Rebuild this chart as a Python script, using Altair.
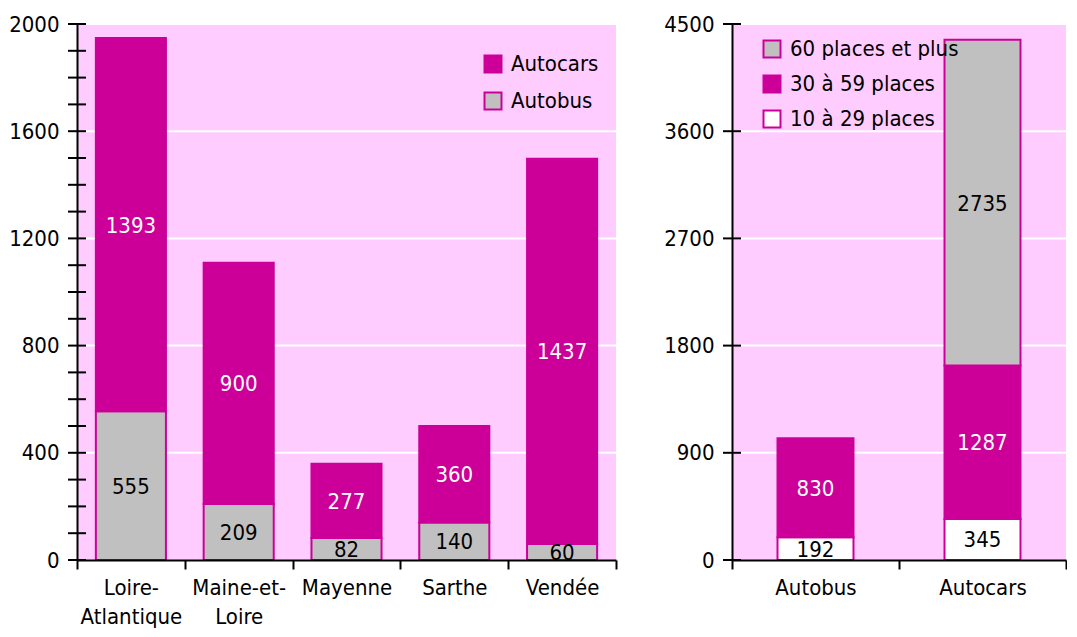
import altair as alt
import pandas as pd

# ---------------- data ----------------
DEPTS = ["Loire-Atlantique", "Maine-et-Loire", "Mayenne", "Sarthe", "Vendée"]
AUTOBUS = [555, 209, 82, 140, 60]
AUTOCARS = [1393, 900, 277, 360, 1437]

TYPES = ["Autobus", "Autocars"]
PLACES_10_29 = [192, 345]
PLACES_30_59 = [830, 1287]
PLACES_60_PLUS = [0, 2735]

LEFT_SERIES = ["Autocars", "Autobus"]            # legend order
RIGHT_SERIES = ["60 places et plus", "30 à 59 places", "10 à 29 places"]

LEFT_LABELS = [0, 400, 800, 1200, 1600, 2000]
LEFT_TICKS = list(range(0, 2001, 100))
RIGHT_LABELS = [0, 900, 1800, 2700, 3600, 4500]

# ---------------- style ----------------
MAG = "#CC0099"
GREY = "#C0C0C0"
BG = "#FFCCFF"
FONT = "DejaVu Sans Condensed, Liberation Sans Narrow, sans-serif"
FS = 22
H = 536

left_df = pd.DataFrame({
    "dept": DEPTS * 2,
    "series": ["Autobus"] * len(DEPTS) + ["Autocars"] * len(DEPTS),
    "value": AUTOBUS + AUTOCARS,
    "rank": [0] * len(DEPTS) + [1] * len(DEPTS),
})

right_rows = []
for i, t in enumerate(TYPES):
    for s, vals, r in [("10 à 29 places", PLACES_10_29, 0),
                       ("30 à 59 places", PLACES_30_59, 1),
                       ("60 places et plus", PLACES_60_PLUS, 2)]:
        right_rows.append({"type": t, "series": s, "value": vals[i], "rank": r})
right_df = pd.DataFrame(right_rows)
right_df = right_df[right_df["value"] > 0]


def panel(df, cat, cats, series_domain, series_range, white_series, ydomain,
          ylabels, yticks, width, band, legend_x, legend_y, row_pad, label_expr=None):
    xaxis = dict(title=None, labelAngle=0, tickBand="extent", tickSize=9,
                 tickWidth=2, tickColor="black", domainColor="black",
                 domainWidth=2, labelFontSize=FS, labelFont=FONT,
                 labelColor="black", labelPadding=8, grid=False,
                 labelLineHeight=29, zindex=1)
    if label_expr:
        xaxis["labelExpr"] = label_expr
    x = alt.X(f"{cat}:N", sort=cats,
              scale=alt.Scale(paddingInner=0, paddingOuter=0),
              axis=alt.Axis(**xaxis))
    yscale = alt.Scale(domain=ydomain, nice=False, zero=True)

    def yaxis():
        return alt.Axis(title=None, values=ylabels, ticks=False, tickSize=0,
                        format="d", labelPadding=18, labelFontSize=FS,
                        labelFont=FONT, labelColor="black",
                        domainColor="black", domainWidth=2,
                        grid=False, zindex=1)

    base = alt.Chart(df).transform_stack(
        stack="value", groupby=[cat], sort=[alt.SortField("rank")],
        as_=["v0", "v1"]
    ).transform_calculate(mid="(datum.v0 + datum.v1) / 2")

    grid = alt.Chart(pd.DataFrame({"g": ylabels[1:]})).mark_rule(
        color="white", strokeWidth=2
    ).encode(y=alt.Y("g:Q", scale=yscale, axis=yaxis()))

    bars = base.mark_bar(stroke=MAG, strokeWidth=2,
                         width=alt.RelativeBandSize(band)).encode(
        x=x,
        y=alt.Y("v0:Q", scale=yscale, axis=yaxis()),
        y2="v1:Q",
        fill=alt.Fill("series:N",
                      scale=alt.Scale(domain=series_domain, range=series_range),
                      legend=alt.Legend(orient="none", legendX=legend_x,
                                        legendY=legend_y, title=None,
                                        symbolType="square", symbolSize=289,
                                        symbolStrokeColor=MAG,
                                        symbolStrokeWidth=2,
                                        labelFontSize=FS, labelFont=FONT,
                                        labelColor="black", rowPadding=row_pad,
                                        labelOffset=7, padding=0,
                                        labelLimit=400)),
    )

    text = base.mark_text(font=FONT, fontSize=FS, baseline="middle",
                          align="center", dy=1).encode(
        x=alt.X(f"{cat}:N", sort=cats),
        y=alt.Y("mid:Q", scale=yscale, axis=yaxis()),
        text=alt.Text("value:Q"),
        color=alt.condition(alt.datum.series == white_series,
                            alt.value("white"), alt.value("black")),
    )

    ticks = alt.Chart(pd.DataFrame({"t": yticks})).mark_rule(
        color="black", strokeWidth=2
    ).encode(y=alt.Y("t:Q", scale=yscale, axis=yaxis()),
             x=alt.value(-9), x2=alt.value(9))

    return alt.layer(grid, bars, text, ticks).properties(width=width, height=H)


left = panel(
    left_df, "dept", DEPTS, LEFT_SERIES, [MAG, GREY], "Autocars",
    [0, 2000], LEFT_LABELS, LEFT_TICKS, 539, 0.65, 405, 29, 11,
    label_expr="datum.value == 'Loire-Atlantique' ? ['Loire-', 'Atlantique'] : "
               "datum.value == 'Maine-et-Loire' ? ['Maine-et-', 'Loire'] : datum.label",
)

right = panel(
    right_df, "type", TYPES, RIGHT_SERIES, [GREY, MAG, "white"], "30 à 59 places",
    [0, 4500], RIGHT_LABELS, RIGHT_LABELS, 334, 0.455, 29, 14, 9,
)

chart = alt.hconcat(left, right, spacing=46).resolve_scale(
    x="independent", y="independent", fill="independent"
).resolve_legend(fill="independent").properties(
    padding={"left": 0, "top": 5, "right": 0, "bottom": 2}
).configure(background="white").configure_view(
    fill=BG, strokeWidth=0
)

chart.save("out.html", embed_options={"renderer": "svg", "actions": False})
